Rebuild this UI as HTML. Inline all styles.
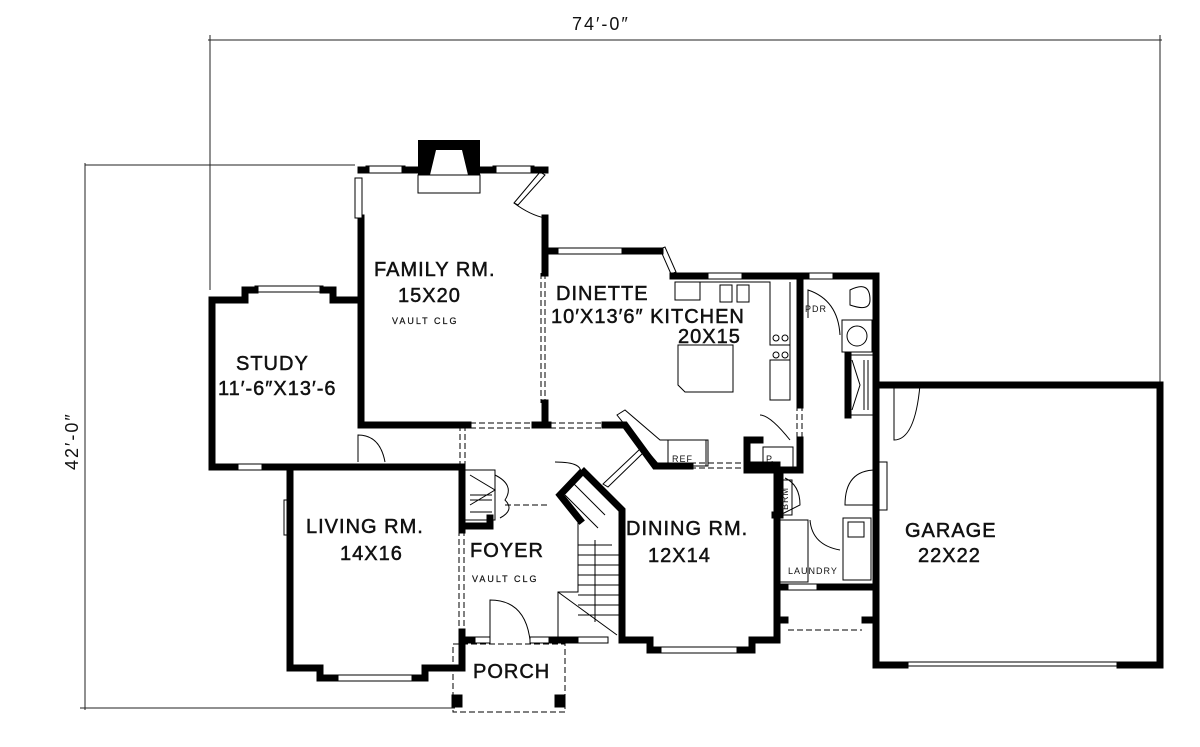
<!DOCTYPE html>
<html><head><style>
html,body{margin:0;padding:0;background:#fff;}
svg{display:block}
text{font-family:"Liberation Sans",sans-serif;fill:#111;}
.L{font-size:20px;letter-spacing:1px;stroke:#111;stroke-width:0.5}
.S{font-size:9px;letter-spacing:2px;stroke:#111;stroke-width:0.2}
</style></head><body>
<svg width="1200" height="747" viewBox="0 0 1200 747" xmlns="http://www.w3.org/2000/svg">
<g stroke="#222" stroke-width="1" fill="none">
<line x1="208" y1="40" x2="1162" y2="40"/>
<line x1="210" y1="35" x2="210" y2="290"/>
<line x1="1160" y1="35" x2="1160" y2="385"/>
<line x1="85" y1="163" x2="85" y2="710"/>
<line x1="85" y1="165" x2="355" y2="165"/>
<line x1="80" y1="708" x2="455" y2="708"/>
</g>
<text x="572" y="30" style="font-size:18px;letter-spacing:2px">74′-0″</text>
<text transform="translate(78,470) rotate(-90)" style="font-size:18px;letter-spacing:2px">42′-0″</text>

<g stroke="#000" stroke-width="7" fill="none" stroke-linecap="square">
<polyline points="361,218 361,425 468,425"/>
<line x1="361" y1="170" x2="366" y2="170"/>
<line x1="405" y1="170" x2="420" y2="170"/>
<line x1="478" y1="170" x2="493" y2="170"/>
<line x1="534" y1="170" x2="545" y2="170"/>
<line x1="545" y1="218" x2="545" y2="273"/>
<line x1="545" y1="403" x2="545" y2="425"/>
<line x1="535" y1="425" x2="548" y2="425"/>
<polyline points="361,300 333,300 333,290 323,290"/>
<polyline points="255,290 245,290 245,300 212,300 212,467 235,467"/>
<line x1="265" y1="467" x2="290" y2="467"/>
<line x1="290" y1="467" x2="462" y2="467"/>
<polyline points="290,467 290,668 320,668 320,678 335,678"/>
<polyline points="415,678 425,678 425,668 462,668 462,632"/>
<line x1="462" y1="467" x2="462" y2="530"/>
<polyline points="462,526 490,526 490,518"/>
<line x1="462" y1="640" x2="472" y2="640"/>
<line x1="552" y1="640" x2="575" y2="640"/>
<polyline points="580,474 560,495 580,520"/>
<polyline points="584,472 622,510 622,640 650,640 650,650 658,650"/>
<polyline points="740,650 752,650 752,640 777,640 777,465 747,465"/>
<polyline points="605,425 625,425 655,466 690,466"/>
<line x1="545" y1="251" x2="555" y2="251"/>
<line x1="625" y1="251" x2="660" y2="251"/>
<line x1="673" y1="276" x2="705" y2="276"/>
<line x1="745" y1="276" x2="800" y2="276"/>
<polyline points="800,276 800,405"/>
<polyline points="800,440 800,470 747,470 747,440 760,440"/>
<polyline points="780,470 780,515 775,515"/>
<line x1="800" y1="276" x2="806" y2="276"/>
<polyline points="836,276 876,276 876,665 905,665"/>
<line x1="1120" y1="665" x2="1160" y2="665"/>
<polyline points="876,385 1160,385 1160,665"/>
<line x1="848" y1="355" x2="848" y2="415"/>
<line x1="777" y1="587" x2="785" y2="587"/>
<line x1="820" y1="587" x2="876" y2="587"/>
<polyline points="777,587 777,620 785,620"/>
<polyline points="876,620 865,620"/>
</g>
<path d="M418,140 L480,140 L480,175 L468,175 L462,150 L436,150 L430,175 L418,175 Z" fill="#000"/>
<rect x="418" y="175" width="62" height="18" fill="none" stroke="#000" stroke-width="1"/>
<g stroke="#000" stroke-width="1" fill="none">
<rect x="366" y="166" width="39" height="7"/>
<rect x="493" y="166" width="41" height="7"/>
<rect x="355" y="178" width="7" height="40" fill="#fff"/>
<rect x="255" y="286" width="68" height="6"/>
<rect x="235" y="464" width="30" height="6"/>
<rect x="284" y="500" width="6" height="35"/>
<rect x="335" y="675" width="80" height="6"/>
<rect x="472" y="637" width="18" height="6"/>
<rect x="530" y="637" width="22" height="6"/>
<rect x="575" y="637" width="33" height="6"/>
<rect x="658" y="647" width="82" height="6"/>
<rect x="555" y="248" width="70" height="6"/>
<rect x="705" y="273" width="40" height="6"/>
<rect x="806" y="273" width="30" height="6"/>
<rect x="785" y="584" width="35" height="6"/>
<rect x="1157" y="515" width="6" height="25"/>
<rect x="905" y="662" width="215" height="4"/>
<polygon points="660,249 665,247 676,272 671,274"/>
<polygon points="603,484 608,487 644,452 640,449"/>
<polygon points="540,172 545,175 518,205 514,203"/>
<path d="M514,203 Q530,215 545,218"/>
<g stroke-dasharray="6,3">
<line x1="541" y1="273" x2="541" y2="403"/>
<line x1="545" y1="273" x2="545" y2="403"/>
<line x1="470" y1="423" x2="535" y2="423"/>
<line x1="470" y1="428" x2="535" y2="428"/>
<line x1="550" y1="423" x2="602" y2="423"/>
<line x1="550" y1="428" x2="602" y2="428"/>
<line x1="460" y1="425" x2="460" y2="465"/>
<line x1="465" y1="425" x2="465" y2="465"/>
<line x1="459" y1="530" x2="459" y2="632"/>
<line x1="464" y1="530" x2="464" y2="632"/>
<line x1="505" y1="505" x2="550" y2="505"/>
<line x1="690" y1="463" x2="745" y2="463"/>
<line x1="690" y1="468" x2="745" y2="468"/>
<line x1="797" y1="405" x2="797" y2="440"/>
<line x1="802" y1="405" x2="802" y2="440"/>
<rect x="453" y="644" width="112" height="68"/>
<line x1="788" y1="630" x2="862" y2="630"/>
</g>
<path d="M358,462 L358,435 Q380,435 385,462"/>
<path d="M490,640 L490,600 Q525,600 530,640"/>
<path d="M894,385 L894,440 Q915,440 920,385"/>
<path d="M876,470 Q845,470 845,505 L876,505"/>
<path d="M785,478 Q800,485 800,505 L780,515"/>
<path d="M760,415 Q770,415 790,440"/>
<path d="M808,318 L808,290 Q838,300 840,335"/>
<path d="M810,520 Q812,545 840,550"/>
<path d="M675,282 L770,282 L770,345 L790,345 L790,360 L770,360 L770,400 L790,400 L790,282"/>
<rect x="720" y="285" width="12" height="17"/><rect x="737" y="285" width="12" height="17"/>
<rect x="675" y="282" width="25" height="18"/>
<path d="M678,345 L733,345 L733,392 L685,392 L678,385 Z"/>
<circle cx="776" cy="338" r="3"/><circle cx="785" cy="338" r="3"/>
<circle cx="776" cy="355" r="3"/><circle cx="785" cy="355" r="3"/>
<polygon points="617,415 625,410 660,440 708,440 708,466 660,466 625,425"/>
<rect x="668" y="440" width="38" height="26"/>
<rect x="763" y="447" width="30" height="20"/>
<path d="M850,290 Q870,280 870,300 Q870,312 850,305 Z"/>
<rect x="842" y="320" width="30" height="32"/><circle cx="857" cy="336" r="10"/>
<rect x="848" y="355" width="25" height="60"/>
<path d="M852,360 L860,385 L852,410 M864,360 L864,410 M868,360 L868,410"/>
<rect x="780" y="520" width="28" height="62"/>
<rect x="843" y="518" width="28" height="62"/>
<rect x="848" y="522" width="16" height="15"/>
<rect x="778" y="480" width="14" height="35"/>
<rect x="877" y="462" width="10" height="48"/>
<path d="M470,475 L495,490 L470,505 M470,495 L492,495 M470,500 L492,500 M470,512 L492,512"/>
<path d="M495,475 Q515,485 505,500 Q515,510 500,518"/>
<rect x="465" y="470" width="30" height="50"/>
<path d="M573,483 L605,515 M565,495 L598,528 M585,472 L615,500 M578,545 L612,545 M578,555 L620,555 M578,565 L620,565 M578,575 L620,575 M578,585 L620,585 M578,595 L620,595 M578,605 L620,605 M578,615 L620,615 M578,520 L578,592 L558,592 L558,640 M558,592 L617,635 M595,540 L595,622 M555,462 Q585,462 580,475"/>
<rect x="452" y="695" width="10" height="12" fill="#000"/>
<rect x="555" y="695" width="10" height="12" fill="#000"/>
</g>
<text class="L" x="374" y="276">FAMILY RM.</text>
<text class="L" x="398" y="302">15X20</text>
<text class="S" x="392" y="324">VAULT CLG</text>
<text class="L" x="556" y="300">DINETTE</text>
<text class="L" x="551" y="323">10′X13′6″ KITCHEN</text>
<text class="L" x="678" y="343">20X15</text>
<text class="L" x="236" y="370">STUDY</text>
<text class="L" x="218" y="395">11′-6″X13′-6</text>
<text class="L" x="306" y="533">LIVING RM.</text>
<text class="L" x="340" y="560">14X16</text>
<text class="L" x="470" y="557">FOYER</text>
<text class="S" x="472" y="582">VAULT CLG</text>
<text class="L" x="626" y="535">DINING RM.</text>
<text class="L" x="648" y="562">12X14</text>
<text class="L" x="473" y="678">PORCH</text>
<text class="L" x="905" y="537">GARAGE</text>
<text class="L" x="918" y="562">22X22</text>
<text style="font-size:9px;letter-spacing:1px" x="805" y="312">PDR</text>
<text style="font-size:9px;letter-spacing:1px" x="672" y="462">REF</text>
<text style="font-size:9px" x="766" y="462">P.</text>
<text style="font-size:9px;letter-spacing:1px" x="788" y="574">LAUNDRY</text>
<text transform="translate(788,510) rotate(-90)" style="font-size:9px;letter-spacing:1px">BRM</text>
</svg>
</body></html>
